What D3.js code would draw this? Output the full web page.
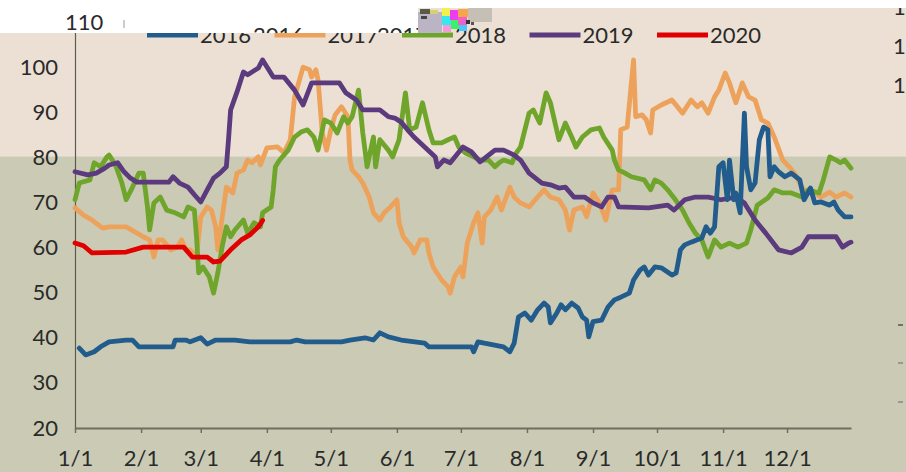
<!DOCTYPE html>
<html><head><meta charset="utf-8">
<script src="https://cdn.jsdelivr.net/npm/d3@7/dist/d3.min.js"></script>
<style>html,body{margin:0;padding:0;background:#fff;overflow:hidden}</style>
</head><body>
<svg id="c" width="906" height="472"></svg>
<script>
// ---- data: [day of year (0 = Jan 1), value] ----
const years = ["2016", "2017", "2018", "2019", "2020"];
const colors = ["#215c8c", "#eda25c", "#6fa52b", "#5b3a7d", "#e00000"];

const s2016 = [[2,37.7],[5,36.2],[9,36.9],[12,38],[16,39.1],[24,39.5],[27,39.5],[30,38],[46,38],[47,39.5],[52,39.5],[54,39.1],[59,40],[62,38.6],[66,39.5],[75,39.5],[82,39.1],[101,39.1],[104,39.5],[108,39.1],[125,39.1],[129,39.5],[136,40],[140,39.5],[143,41.1],[147,40.2],[153,39.5],[164,38.8],[166,38],[186,38],[187,36.9],[189,39.1],[192,38.8],[201,38],[204,36.9],[206,38.8],[208,44.6],[211,45.5],[214,43.9],[217,46.2],[220,47.7],[222,46.8],[223,43.3],[226,45.5],[228,47.3],[230,46.2],[233,47.7],[236,46.6],[238,44.6],[240,43.9],[241,40.2],[243,43.6],[247,43.9],[250,46.8],[253,48.4],[256,49],[260,49.9],[261,51.3],[262,52.8],[265,55],[267,55.7],[269,53.9],[272,55.7],[275,55.5],[280,53.9],[282,54.4],[284,59.5],[286,60.6],[289,61.2],[294,62.1],[296,64.6],[298,63.2],[300,64.6],[301,71.2],[302,77.9],[304,78.8],[306,70.6],[307,79.4],[309,70.6],[310,72.1],[312,67.7],[314,89.8],[315,77.9],[317,72.8],[319,74.3],[321,83.9],[323,86.7],[325,86.1],[326,75.7],[328,77.9],[330,76.8],[333,75.7],[336,76.5],[340,75],[342,70.6],[345,73.2],[347,69.9],[350,70.1],[354,69.4],[356,70.1],[358,68.3],[361,66.8],[364,66.8]];

const s2017 = [[0,68.8],[4,67.2],[8,66.1],[13,64.3],[16,64.6],[24,64.6],[32,62.4],[35,61.7],[37,57.9],[39,61.7],[41,61.7],[45,59.5],[48,60.1],[50,61.7],[52,59.5],[54,59.5],[57,57.9],[59,66.8],[62,69],[64,68.3],[66,64.6],[67,59.5],[68,63.2],[70,69.9],[71,73.4],[74,72.1],[76,76.5],[79,77.2],[81,79.4],[83,78.8],[86,80.1],[87,78.3],[90,82.1],[95,82.3],[98,81],[101,83.9],[103,93.4],[107,100],[110,99.4],[111,97.8],[113,99.4],[114,97.2],[116,85.4],[118,81.6],[120,86.1],[122,89.4],[125,91.2],[126,90.5],[128,89],[129,79.4],[130,77.2],[133,75.7],[135,74.3],[138,71.2],[140,67.7],[143,66.1],[145,67.7],[148,69],[151,70.6],[152,65.5],[154,62.4],[158,60.1],[159,58.8],[162,61.7],[165,61.7],[166,58.8],[168,55.7],[172,52.8],[175,51.3],[176,49.9],[178,53.5],[181,55.7],[182,53.5],[184,61],[187,65.5],[189,67.7],[191,61],[192,66.8],[195,68.3],[198,71.2],[200,68.3],[204,73.4],[206,71.2],[209,69.9],[213,69],[217,71.2],[220,72.8],[223,71.2],[227,70.6],[230,68.3],[232,63.9],[234,68.3],[238,69],[240,66.8],[243,72.1],[246,69.9],[249,66.1],[252,72.8],[255,72.8],[256,86.1],[259,86.7],[262,101.6],[263,89],[266,89.4],[268,88.3],[270,85.4],[271,90.5],[275,91.6],[280,92.7],[285,89.8],[289,92.7],[292,91.2],[294,92.1],[297,89.8],[300,93.4],[302,94.9],[305,98.7],[307,96.5],[310,92.1],[313,96.5],[316,93.4],[319,92.7],[322,88.3],[325,87.6],[328,84.5],[332,79.4],[335,77.9],[338,76.1],[341,73.2],[344,72.1],[347,72.1],[350,71.2],[354,72.3],[357,71.2],[361,72.1],[364,71.2]];

const s2018 = [[0,70.6],[2,74.3],[7,75],[9,78.8],[12,77.9],[15,80.1],[16,80.5],[19,78.3],[22,74.3],[24,70.6],[27,73.4],[30,76.5],[32,76.5],[34,69],[35,63.9],[37,69.9],[40,71.2],[43,68.3],[47,67.7],[51,66.8],[53,69],[56,68.3],[57,62.4],[58,54.4],[60,55.7],[63,53.5],[65,49.9],[67,54.4],[69,60.1],[71,64.6],[73,62.4],[75,63.9],[79,66.1],[81,63.2],[84,65.5],[87,64.6],[88,67.7],[92,69],[93,72.8],[94,77.9],[96,79.4],[100,81.6],[103,84.5],[106,85.6],[109,86.1],[112,84.5],[114,81.6],[117,88.3],[120,87.6],[123,85.4],[126,89],[128,87.6],[130,89],[133,94.9],[135,85.4],[137,77.9],[140,84.5],[141,77.9],[143,83.9],[147,81.6],[149,80.1],[152,83.9],[155,94.3],[157,86.1],[160,86.7],[163,92.1],[166,86.1],[168,83.2],[172,83.2],[175,83.9],[178,84.5],[180,82.3],[183,81],[187,80.1],[190,79.4],[194,79.4],[197,77.9],[199,78.8],[201,79.4],[205,78.8],[207,81],[209,82.3],[213,89.8],[215,90.5],[218,87.6],[221,94.3],[223,92.1],[227,83.9],[230,87.6],[233,84.5],[235,82.3],[238,84.5],[242,86.1],[246,86.5],[248,84.5],[252,81.6],[253,79.4],[255,77.2],[258,76.5],[261,75.7],[267,75],[270,72.8],[272,75],[275,74.3],[278,72.8],[281,71],[285,68.3],[288,65.5],[291,63.2],[294,61.7],[297,57.9],[300,61.7],[303,60.1],[307,61],[311,60.1],[315,61],[317,63.9],[320,69.4],[325,71],[328,72.8],[332,72.1],[336,72.1],[341,71.2],[344,72.8],[349,72.1],[351,75],[354,80.1],[357,79.4],[359,78.8],[361,79.4],[364,77.6]];

const s2019 = [[0,76.8],[6,76.1],[10,76.5],[14,77.6],[16,78.3],[20,78.8],[23,76.8],[26,75.4],[29,74.5],[44,74.5],[46,75.7],[49,74.3],[53,73.4],[56,71.7],[59,70.1],[62,72.8],[65,75.4],[68,76.5],[71,77.9],[72,83.9],[73,90.5],[76,94.5],[79,98.9],[81,98.3],[86,99.8],[88,101.6],[93,97.8],[98,97.8],[103,94.9],[107,91.6],[111,96.5],[124,96.5],[127,94.3],[132,92.7],[135,90.5],[143,90.5],[147,89],[150,88.7],[153,87.8],[156,86.1],[159,84.5],[164,82.3],[169,80.1],[170,77.9],[173,79.4],[176,78.8],[182,82.3],[186,81.2],[190,79],[197,81.6],[201,81.6],[206,80.5],[209,79.4],[213,76.5],[219,74.3],[223,73.9],[227,73.2],[230,73.4],[234,71.2],[239,71.2],[243,69.9],[247,69],[250,71.2],[253,71.2],[255,69],[269,68.8],[278,69.4],[281,68.3],[286,70.6],[291,71.2],[297,71.2],[303,70.6],[310,71.2],[314,69.9],[319,66.1],[324,63.2],[330,59.5],[336,58.8],[341,60.1],[344,62.4],[357,62.4],[360,60.1],[363,61],[364,61.2]];

const s2020 = [[0,61],[4,60.4],[8,58.8],[24,59],[32,60.1],[51,60.1],[55,57.9],[62,57.9],[65,56.8],[68,57],[73,59.5],[78,61.7],[82,62.8],[86,64.6],[88,66]];

const seriesData = [s2016, s2017, s2018, s2019, s2020];
const drawOrder = [1, 2, 3, 0, 4];

const xTickLabels = ["1/1","2/1","3/1","4/1","5/1","6/1","7/1","8/1","9/1","10/1","11/1","12/1"];
const yTicks = [20, 30, 40, 50, 60, 70, 80, 90, 100];
const yTopLabel = 110;

// ---- layout ----
const W = 906, H = 472;
const X0 = 75, X1 = 851, Y0 = 428, YTOP = 22;
const FONT = "Lato, 'Open Sans', sans-serif";
const TXT = "#2a2a2a";

const svg = d3.select("#c");
const dateOf = d => new Date(2019, 0, 1 + d);
const x = d3.scaleTime().domain([new Date(2019,0,1), new Date(2019,11,31)]).range([X0, X1]);
const y = d3.scaleLinear().domain([20, 110]).range([Y0, YTOP]);

// background bands
const bandY = y(80) - 1;
svg.append("rect").attr("x",0).attr("y",0).attr("width",W).attr("height",bandY).attr("fill","#ebe0d3");
svg.append("rect").attr("x",0).attr("y",bandY).attr("width",W).attr("height",H-bandY).attr("fill","#cbcbb5");

// y axis
const yAxis = d3.axisLeft(y).tickValues(yTicks).tickSize(0).tickPadding(17).tickFormat(d3.format("d"));
const gy = svg.append("g").attr("transform",`translate(${X0},0)`).call(yAxis);
gy.select(".domain").attr("stroke","#5a5a50").attr("stroke-width",1.2);
gy.selectAll("text").attr("font-family",FONT).attr("font-size",22).attr("fill",TXT);

// x axis
const monthTicks = d3.range(12).map(m => new Date(2019, m, 1));
const xAxis = d3.axisBottom(x).tickValues(monthTicks).tickSize(5).tickSizeOuter(0).tickPadding(17)
  .tickFormat((d,i) => xTickLabels[i]);
const gx = svg.append("g").attr("transform",`translate(0,${Y0})`).call(xAxis);
gx.select(".domain").attr("stroke","#6e6e5e").attr("stroke-width",2.2);
gx.selectAll(".tick line").attr("stroke","#6e6e5e").attr("stroke-width",1.5);
gx.selectAll("text").attr("font-family",FONT).attr("font-size",22).attr("fill",TXT);

// lines
const line = d3.line().x(p => x(dateOf(p[0]))).y(p => y(p[1]));
drawOrder.forEach(i => {
  svg.append("path").datum(seriesData[i]).attr("d", line)
    .attr("fill","none").attr("stroke",colors[i]).attr("stroke-width",4.8)
    .attr("stroke-linejoin","round").attr("stroke-linecap","round");
});

// legend (main)
const LX = 147, LSTEP = 127.5, LY = 35;
const leg = svg.append("g");
years.forEach((yr,i) => {
  const lx = LX + i*LSTEP;
  leg.append("line").attr("x1",lx).attr("x2",lx+51).attr("y1",LY).attr("y2",LY)
    .attr("stroke",colors[i]).attr("stroke-width",5);
  leg.append("text").attr("x",lx+53).attr("y",LY+8).text(yr)
    .attr("font-family",FONT).attr("font-size",22).attr("fill",TXT);
});

// right-side partial secondary axis labels
[7, 46, 85].forEach(cy => {
  svg.append("text").attr("x",893).attr("y",cy+8).text("1")
    .attr("font-family",FONT).attr("font-size",22).attr("fill",TXT);
});
[[325,"#555"],[363,"#888"],[402,"#888"]].forEach(([yy,c]) => {
  svg.append("line").attr("x1",898).attr("x2",903).attr("y1",yy).attr("y2",yy).attr("stroke",c).attr("stroke-width",1.5);
});

// white top regions
svg.append("rect").attr("x",0).attr("y",0).attr("width",418).attr("height",33).attr("fill","#fff");
svg.append("rect").attr("x",0).attr("y",0).attr("width",W).attr("height",8).attr("fill","#fff");

// ghost legend texts visible only in the white region
const defs = svg.append("defs");
defs.append("clipPath").attr("id","whiteClip").append("rect").attr("x",0).attr("y",0).attr("width",418).attr("height",33);
const ghost = svg.append("g").attr("clip-path","url(#whiteClip)");
[[253,"2016"],[377,"2017"]].forEach(([gx0,t]) => {
  ghost.append("text").attr("x",gx0).attr("y",LY+8).text(t)
    .attr("font-family",FONT).attr("font-size",22).attr("fill",TXT);
});

// top "110" label and stray tick
svg.append("text").attr("x",65).attr("y",y(yTopLabel)+8).text(String(yTopLabel))
  .attr("font-family",FONT).attr("font-size",22).attr("fill",TXT);
svg.append("line").attr("x1",124).attr("x2",124).attr("y1",20).attr("y2",28).attr("stroke","#999").attr("stroke-width",1);

// glitch block
const glitch = [
  [418,12,24,21,"#bab4c4"],[420,9,10,5,"#5a5a4a"],[430,10,8,4,"#d8d070"],[421,16,6,3,"#444"],
  [468,8,24,14,"#c6bfb6"],
  [442,8,8,8,"#f2f04a"],[442,16,9,9,"#38e6f0"],[450,10,8,10,"#f03cf0"],[451,20,8,9,"#3cf06a"],
  [458,9,10,8,"#f5a64a"],[458,17,9,8,"#f060c8"],[443,25,8,7,"#f59ad8"],[459,25,8,6,"#48c8ff"],
  [466,20,4,4,"#333"],[471,22,3,3,"#555"]
];
glitch.forEach(([gx0,gy0,w,h,c]) => svg.append("rect").attr("x",gx0).attr("y",gy0).attr("width",w).attr("height",h).attr("fill",c));
</script>
</body></html>
